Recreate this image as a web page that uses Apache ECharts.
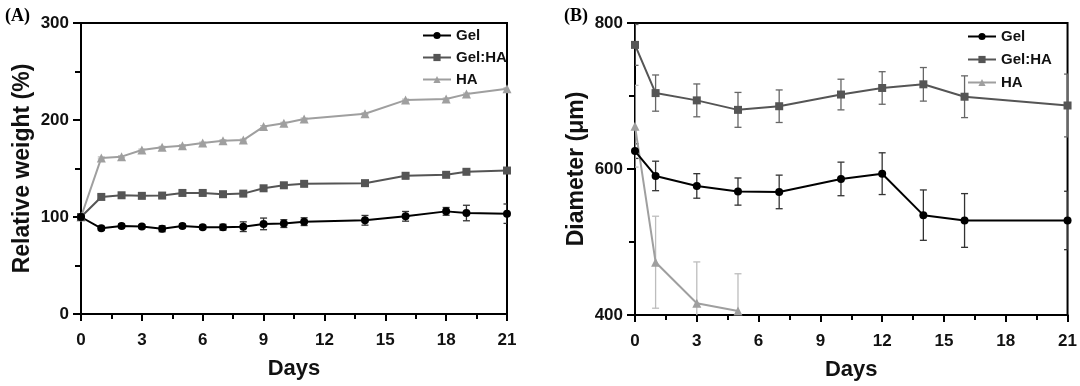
<!DOCTYPE html>
<html><head><meta charset="utf-8">
<script src="https://cdn.jsdelivr.net/npm/echarts@6/dist/echarts.min.js"></script>
<style>html,body{margin:0;padding:0;background:#fff}#c{width:1080px;height:386px}</style>
</head><body><div id="c"></div>
<script>
// Panel A: relative weight (%)
const daysA = [0,1,2,3,4,5,6,7,8,9,10,11,14,16,18,19,21];
const gelA = [100,88.4,90.8,90.1,87.8,90.8,89.5,89.5,90,92.9,93.2,95.2,96.6,100.7,105.8,104.1,103.4];
const gelA_err = [0,2,2,2,3,2,2,3,5,6,4,4,5,5,4,8,10];
const gelhaA = [100,120.7,122.4,121.8,122.1,124.8,124.8,123.5,124.1,129.6,132.7,134.2,134.9,142.5,143.5,146.6,147.9];
const gelhaA_err = [0,2,2,2,2,2,2,2,2,2,2,2,2,3,2,2,2];
const haA = [100,160.9,162.2,169,171.8,173.5,176.2,178.6,179.3,193.2,196.6,201,206.5,220.5,221.6,226.7,232.2];
const haA_err = [0,1,1,1,1,1,1,1,1,1,1,1,1,1,1,1,1];

// Panel B: diameter (µm)
const daysB = [0,1,3,5,7,10,12,14,16,21];
const gelB = [624.5,590.5,576.8,569.1,568.6,586.4,593.6,536.8,529.5,529.5];
const gelB_err = [10,20.2,16.8,18.6,23,23,28.6,34.5,36.8,40];
const gelhaB = [770,704,694,681,686,702,711,716,699,687];
const gelhaB_err = [28,24.8,22.5,23.9,22.3,21,22.3,23,28.6,43];
const daysHA_B = [0,1,3,5];
const haB = [658.6,472.3,416,405.5];
const haB_err = [56,63,56.7,51];

const xTicks = [0,3,6,9,12,15,18,21];
const seriesNames = ['Gel','Gel:HA','HA'];
const colors = ['#000000','#555555','#9f9f9f'];
const errColors = ['#333333','#666666','#bdbdbd'];
const symbols = ['circle','rect','triangle'];

const FONT = '"Liberation Sans", Arial, sans-serif';

function pairs(xs, ys){ return xs.map((x,i)=>[x, ys[i]]); }
function errData(xs, ys, es){ return xs.map((x,i)=>[x, ys[i]-es[i], ys[i]+es[i]]); }

function errSeries(gi, data, color){
  return {
    type:'custom', xAxisIndex:gi, yAxisIndex:gi, silent:true, z:1, clip:true,
    renderItem:function(params, api){
      const x = api.value(0), lo = api.value(1), hi = api.value(2);
      const p1 = api.coord([x, lo]), p2 = api.coord([x, hi]);
      const w = 3.5;
      const st = {stroke:color, lineWidth:1.3};
      return {type:'group', children:[
        {type:'line', shape:{x1:p1[0],y1:p1[1],x2:p2[0],y2:p2[1]}, style:st},
        {type:'line', shape:{x1:p1[0]-w,y1:p1[1],x2:p1[0]+w,y2:p1[1]}, style:st},
        {type:'line', shape:{x1:p2[0]-w,y1:p2[1],x2:p2[0]+w,y2:p2[1]}, style:st}
      ]};
    },
    data:data
  };
}
function lineSeries(gi, idx, data){
  return {
    type:'line', name:seriesNames[idx], xAxisIndex:gi, yAxisIndex:gi, z:3,
    data:data, symbol:symbols[idx], symbolSize: idx===0?8:(idx===1?8:9),
    lineStyle:{color:colors[idx], width:2}, itemStyle:{color:colors[idx]},
    animation:false
  };
}
function xAx(gi){
  return {
    type:'value', gridIndex:gi, min:0, max:21, interval:3,
    name:'Days', nameLocation:'middle', nameGap:44,
    nameTextStyle:{fontFamily:FONT, fontWeight:'bold', fontSize:22, color:'#111'},
    axisLine:{lineStyle:{color:'#000', width:2}},
    axisTick:{length:7, lineStyle:{width:2, color:'#000'}},
    minorTick:{show:true, splitNumber:2, length:5, lineStyle:{width:2, color:'#000'}},
    splitLine:{show:false},
    axisLabel:{fontFamily:FONT, fontWeight:'bold', fontSize:17, color:'#111', margin:18,
      formatter:v=> xTicks.includes(v)? String(v):''}
  };
}
function yAx(gi, min, max, interval, name, gap){
  return {
    type:'value', gridIndex:gi, min:min, max:max, interval:interval,
    name:name, nameLocation:'middle', nameGap:gap, nameRotate:90,
    nameTextStyle:{fontFamily:FONT, fontWeight:'bold', fontSize:23, color:'#111'},
    axisLine:{lineStyle:{color:'#000', width:2}},
    axisTick:{length:8, lineStyle:{width:2, color:'#000'}},
    minorTick:{show:true, splitNumber:2, length:6, lineStyle:{width:2, color:'#000'}},
    splitLine:{show:false},
    axisLabel:{fontFamily:FONT, fontWeight:'bold', fontSize:17, color:'#111', margin:12}
  };
}
function legend(left, top, gap){
  return {
    left:left, top:top, orient:'vertical', itemGap:gap, itemWidth:28, itemHeight:9,
    data: seriesNames.map(n=>({name:n})),
    textStyle:{fontFamily:FONT, fontWeight:'bold', fontSize:15, color:'#111'},
    selectedMode:false
  };
}

const chart = echarts.init(document.getElementById('c'), null, {renderer:'canvas'});
chart.setOption({
  animation:false,
  backgroundColor:'#fff',
  title:[
    {text:'(A)', left:0, top:2, textStyle:{fontFamily:'"Liberation Serif", "Times New Roman", serif', fontWeight:'bold', fontSize:18, color:'#000'}},
    {text:'(B)', left:559, top:2, textStyle:{fontFamily:'"Liberation Serif", "Times New Roman", serif', fontWeight:'bold', fontSize:18, color:'#000'}}
  ],
  grid:[
    {left:81, top:23, width:426, height:291, show:true, borderColor:'#000', borderWidth:2, backgroundColor:'transparent'},
    {left:635, top:23, width:441, height:293, show:true, borderColor:'#000', borderWidth:2, backgroundColor:'transparent'}
  ],
  xAxis:[xAx(0), xAx(1)],
  yAxis:[yAx(0,0,300,100,'Relative weight (%)',47), yAx(1,400,800,200,'Diameter (μm)',47)],
  legend:[legend(417, 23, 7), legend(962, 24, 8)],
  series:[
    errSeries(0, errData(daysA, gelA, gelA_err), errColors[0]),
    errSeries(0, errData(daysA, gelhaA, gelhaA_err), errColors[1]),
    errSeries(0, errData(daysA, haA, haA_err), errColors[2]),
    lineSeries(0, 2, pairs(daysA, haA)),
    lineSeries(0, 1, pairs(daysA, gelhaA)),
    lineSeries(0, 0, pairs(daysA, gelA)),
    errSeries(1, errData(daysB, gelB, gelB_err), errColors[0]),
    errSeries(1, errData(daysB, gelhaB, gelhaB_err), errColors[1]),
    errSeries(1, errData(daysHA_B, haB, haB_err), errColors[2]),
    lineSeries(1, 2, pairs(daysHA_B, haB)),
    lineSeries(1, 1, pairs(daysB, gelhaB)),
    lineSeries(1, 0, pairs(daysB, gelB))
  ]
});
</script></body></html>
